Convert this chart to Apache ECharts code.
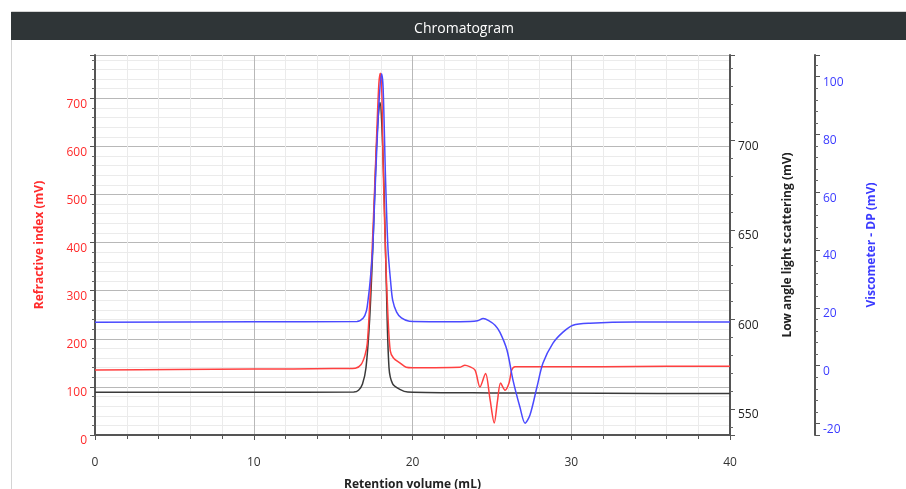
<!DOCTYPE html>
<html>
<head>
<meta charset="utf-8">
<script src="https://cdn.jsdelivr.net/npm/echarts@6/dist/echarts.min.js"></script>
<style>
  html, body { margin: 0; padding: 0; background: #fff; }
  #chart { width: 906px; height: 489px; }
</style>
</head>
<body>
<div id="chart"></div>
<script>
// Refractive index (left axis, mV)
const riVolume = [0, 5, 10, 15, 16.4, 16.75, 17.0, 17.15, 17.3, 17.45, 17.6, 17.75, 17.88, 17.97, 18.06, 18.15, 18.3, 18.45, 18.6, 18.8, 19.2, 19.6, 20, 23.0, 23.3, 23.6, 23.94, 24.25, 24.6, 24.88, 25.15, 25.35, 25.55, 25.83, 26.08, 26.25, 26.46, 28, 32, 36, 40];
const riSignal = [135, 136, 137, 138, 139, 146, 165, 190, 270, 380, 500, 630, 730, 752, 720, 560, 380, 250, 175, 160, 150, 141, 140, 141, 145, 142, 135, 100, 128, 75, 25, 70, 108, 93, 108, 135, 142, 142, 142, 143, 143];

// Low angle light scattering (first right axis, mV)
const lalsVolume = [0, 10, 16.3, 16.6, 16.85, 17.07, 17.3, 17.5, 17.7, 17.85, 17.95, 18.05, 18.2, 18.35, 18.52, 18.75, 19.2, 19.7, 25, 32, 40];
const lalsSignal = [559.3, 559.3, 559.5, 560.5, 564, 573, 600, 640, 690, 714, 721, 712, 675, 620, 573, 564, 561, 559.5, 559, 558.8, 558.6];

// Viscometer DP (second right axis, mV)
const dpVolume = [0, 10, 16.5, 16.9, 17.1, 17.2, 17.32, 17.49, 17.6, 17.75, 17.9, 18.05, 18.15, 18.3, 18.46, 18.63, 18.75, 19.0, 19.3, 19.8, 23, 24.1, 24.45, 24.8, 25.2, 25.51, 25.95, 26.33, 26.77, 27.09, 27.4, 27.84, 28.22, 28.85, 29.48, 30.11, 31.18, 34, 40];
const dpSignal = [15.0, 15.2, 15.3, 16.5, 19, 22.7, 28.6, 40, 55, 75, 92, 101, 96, 65, 40, 28.6, 22.7, 18.5, 16.5, 15.4, 15.2, 15.5, 16.3, 15.6, 14.0, 11.5, 5.4, -5, -14.4, -19.9, -17.1, -7.4, 0.9, 7.8, 11.6, 14, 14.7, 15.1, 15.1];

const zip = (xs, ys) => xs.map((x, i) => [x, ys[i]]);

const FONT = '"Open Sans", "Noto Sans", sans-serif';
const RED = '#ff2b2b';
const BLUE = '#3b3bff';
const AXIS = '#555';

const chart = echarts.init(document.getElementById('chart'));

const yBase = (color) => ({
  type: 'value',
  nameLocation: 'middle',
  nameRotate: 90,
  nameTextStyle: { color, fontFamily: FONT, fontSize: 12, fontWeight: 'bold' },
  axisLine: { show: true, lineStyle: { color: AXIS, width: 2 } },
  axisTick: { show: true, length: 5, lineStyle: { color: AXIS } },
  minorTick: { show: true, splitNumber: 5, length: 3, lineStyle: { color: '#666' } },
  axisLabel: { color, fontFamily: FONT, fontSize: 12, verticalAlign: 'top', showMinLabel: false, showMaxLabel: false },
  splitLine: { show: false },
});

chart.setOption({
  animation: false,
  textStyle: { fontFamily: FONT },
  title: {
    text: 'Chromatogram',
    left: 459,
    top: 17,
    textAlign: 'center',
    textStyle: { color: '#fff', fontSize: 14, fontWeight: 'normal', fontFamily: FONT },
  },
  graphic: [
    { type: 'rect', z: -1, shape: { x: 11.5, y: 11.5, width: 900, height: 485 }, style: { fill: 'none', stroke: '#d4d4d4', lineWidth: 1 } },
    { type: 'rect', z: -1, shape: { x: 11, y: 12, width: 895, height: 28 }, style: { fill: '#2f3537' } },
  ],
  grid: { left: 95, right: 176, top: 55, bottom: 54, outerBoundsMode: 'none' },
  xAxis: {
    type: 'value',
    min: 0,
    max: 40,
    interval: 10,
    name: 'Retention volume (mL)',
    nameLocation: 'middle',
    nameGap: 44,
    nameTextStyle: { color: '#222', fontFamily: FONT, fontSize: 12, fontWeight: 'bold' },
    axisLine: { show: true, lineStyle: { color: AXIS, width: 2 } },
    axisTick: { show: true, length: 5, lineStyle: { color: AXIS } },
    minorTick: { show: true, splitNumber: 5, length: 4, lineStyle: { color: AXIS } },
    axisLabel: { color: '#333', fontFamily: FONT, fontSize: 12, margin: 22 },
    splitLine: { show: true, lineStyle: { color: '#b8b8b8', width: 1 } },
    minorSplitLine: { show: true, lineStyle: { color: '#ebebeb', width: 1 } },
  },
  yAxis: [
    Object.assign(yBase(RED), {
      position: 'left',
      min: 0,
      max: 790,
      interval: 100,
      name: 'Refractive index (mV)',
      nameGap: 49,
      axisLabel: { color: RED, fontFamily: FONT, fontSize: 12, verticalAlign: 'top', margin: 8, showMaxLabel: false },
      splitLine: { show: true, lineStyle: { color: '#b8b8b8', width: 1 } },
      minorSplitLine: { show: true, lineStyle: { color: '#ebebeb', width: 1 } },
    }),
    Object.assign(yBase('#222'), {
      position: 'right',
      min: 535.5,
      max: 747.5,
      splitNumber: 4,
      name: 'Low angle light scattering (mV)',
      nameGap: 52,
    }),
    Object.assign(yBase(BLUE), {
      position: 'right',
      offset: 85,
      min: -24,
      max: 107.5,
      splitNumber: 6,
      name: 'Viscometer - DP (mV)',
      nameGap: 51,
    }),
  ],
  series: [
    {
      name: 'Low angle light scattering',
      type: 'line',
      yAxisIndex: 1,
      data: zip(lalsVolume, lalsSignal),
      showSymbol: false,
      smooth: 0.3,
      lineStyle: { color: '#3a3a3a', width: 1.5 },
    },
    {
      name: 'Refractive index',
      type: 'line',
      yAxisIndex: 0,
      data: zip(riVolume, riSignal),
      showSymbol: false,
      smooth: 0.3,
      lineStyle: { color: '#ff4040', width: 1.5 },
    },
    {
      name: 'Viscometer - DP',
      type: 'line',
      yAxisIndex: 2,
      data: zip(dpVolume, dpSignal),
      showSymbol: false,
      smooth: 0.3,
      lineStyle: { color: '#4a4aff', width: 1.5 },
    },
  ],
});
</script>
</body>
</html>
